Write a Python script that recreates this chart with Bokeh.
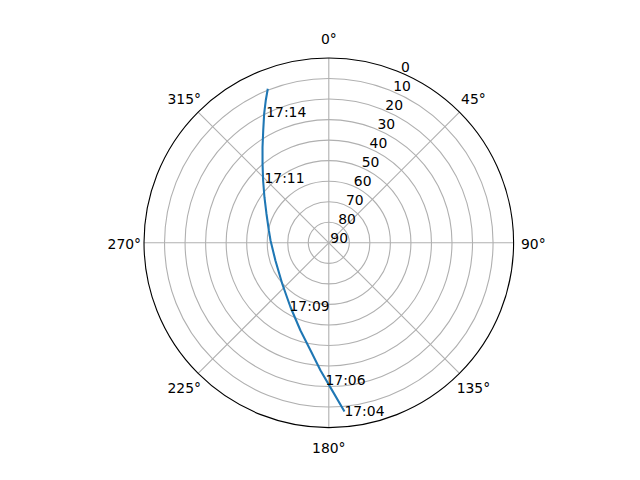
import numpy as np
from bokeh.plotting import figure
from bokeh.models import Range1d
from bokeh.embed import file_html
from bokeh.resources import INLINE
from bokeh.core.properties import value

# ---- data (azimuth deg clockwise from north, elevation deg) ----
track_az = [174.7, 178.7, 183.7, 189.6, 197.9, 210.7, 228.7, 251.6, 272.3,
            281.6, 295.0, 305.3, 313.5, 320.0, 325.3, 329.7, 333.4, 336.1, 338.4]
track_el = [7.5, 18.1, 27.7, 36.8, 45.1, 53.5, 59.8, 62.6, 61.6,
            60.2, 56.5, 51.6, 45.9, 39.8, 33.3, 26.7, 19.7, 14.2, 9.3]

time_labels = ["17:04", "17:06", "17:09", "17:11", "17:14"]
time_az = [174.7, 181.4, 211.7, 315.4, 334.5]
time_el = [7.5, 23.3, 53.6, 45.4, 19.2]

r_ticks = [0, 10, 20, 30, 40, 50, 60, 70, 80, 90]          # elevation tick values
theta_ticks = [0, 45, 90, 135, 180, 225, 270, 315]          # azimuth tick values
theta_labels = ["0°", "45°", "90°", "135°", "180°", "225°", "270°", "315°"]


def to_xy(az, el):
    a = np.radians(np.asarray(az, dtype=float))
    r = 90.0 - np.asarray(el, dtype=float)
    return r * np.sin(a), r * np.cos(a)


W, H = 624, 464
cx, cy = 328.3, 242.3          # centre in canvas pixels
s = 184.8 / 90.0               # pixels per degree

p = figure(width=W, height=H, output_backend="svg", toolbar_location=None,
           x_axis_type=None, y_axis_type=None, min_border=0,
           x_range=Range1d(-cx / s, (W - cx) / s),
           y_range=Range1d(-(H - cy) / s, cy / s))
p.outline_line_color = None
p.grid.visible = False
p.background_fill_color = "white"
p.border_fill_color = "white"

FONT = value("DejaVu Sans")
FS = value("13.9px")
GRID = "#b0b0b0"

# rings (grid)
ring_r = [90 - v for v in r_ticks if 0 < 90 - v < 90]
p.circle(x=[0] * len(ring_r), y=[0] * len(ring_r), radius=ring_r,
         fill_color=None, line_color=GRID, line_width=1.11)

# spokes
tx, ty = to_xy(theta_ticks, [0] * len(theta_ticks))
p.segment(x0=[0] * len(theta_ticks), y0=[0] * len(theta_ticks), x1=tx, y1=ty,
          line_color=GRID, line_width=1.11)

# track
x, y = to_xy(track_az, track_el)
p.line(x, y, line_color="#1f77b4", line_width=2.08)

# outer spine
p.circle(x=[0], y=[0], radius=[90], fill_color=None, line_color="black", line_width=1.11)

# radial tick labels at 22.5 deg
rx, ry = to_xy([22.5] * len(r_ticks), r_ticks)
p.text(x=rx, y=ry, text=[str(v) for v in r_ticks], text_font=FONT, text_font_size=FS,
       text_align="left", text_baseline="bottom", x_offset=1.5, text_color="black")

# angular tick labels
lr = 99.6
lx = [lr * np.sin(np.radians(t)) for t in theta_ticks]
ly = [lr * np.cos(np.radians(t)) for t in theta_ticks]
p.text(x=lx, y=ly, text=theta_labels, text_font=FONT, text_font_size=FS,
       text_align="center", text_baseline="middle", y_offset=1, text_color="black")

# time labels on the track
tlx, tly = to_xy(time_az, time_el)
p.text(x=tlx, y=tly, text=time_labels, text_font=FONT, text_font_size=FS,
       text_align="left", text_baseline="alphabetic", text_color="black")

open("out.html", "w").write(file_html(p, INLINE))
